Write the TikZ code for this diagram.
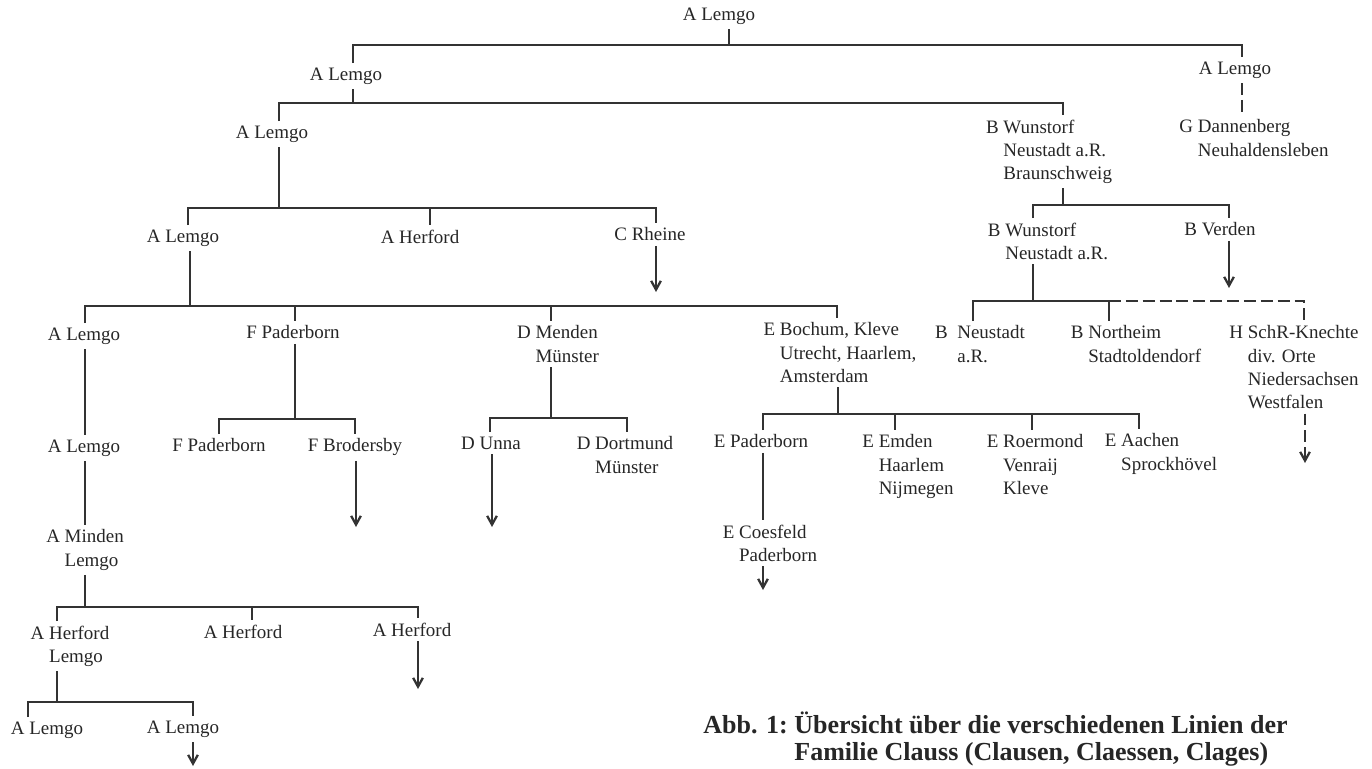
\documentclass[tikz,border=0pt]{standalone}
\usepackage{fontspec}
\setmainfont{Liberation Serif}
\usepackage{tikz}
\usetikzlibrary{arrows.meta}

% indent a continuation line under the place name
\newcommand{\pfx}[1]{\hphantom{#1\ }}

\begin{document}
\begin{tikzpicture}[
    x=0.02cm, y=-0.02cm,
    town/.style={anchor=north, align=left, inner sep=2.5pt, text=black!85,
      font=\fontsize{10.8}{13.2}\selectfont},
    line/.style={draw=black!80, line width=1.3pt},
    dline/.style={line, dash pattern=on 6.8pt off 2.8pt},
    arr/.style={line, -{Straight Barb[length=5pt,width=5.5pt]}},
  ]
  \useasboundingbox (0,0) rectangle (1372,768);

  % Linie A (Lemgo) and the main branches
  \node[town] (a0) at (719,3) {A Lemgo};
  \node[town] (a1) at (346,63) {A Lemgo};
  \node[town] (a2) at (1235,57) {A Lemgo};
  \node[town] (g1) at (1254,115) {G Dannenberg\\\pfx{G}Neuhaldensleben};
  \node[town] (a3) at (272,121) {A Lemgo};
  \node[town] (b1) at (1049,115) {B Wunstorf\\\pfx{B}Neustadt a.R.\\\pfx{B}Braunschweig};
  \node[town] (a4) at (183,225) {A Lemgo};
  \node[town] (h1) at (420,225) {A Herford};
  \node[town] (c1) at (650,223) {C Rheine};
  \node[town] (b2) at (1048,218) {B Wunstorf\\\pfx{B}Neustadt a.R.};
  \node[town] (b5) at (1220,218) {B Verden};

  \node[town] (a5) at (84,323) {A Lemgo};
  \node[town] (f1) at (293,321) {F Paderborn};
  \node[town] (d1) at (558,321) {D Menden\\\pfx{D}Münster};
  \node[town] (e1) at (840,318) {E Bochum, Kleve\\\pfx{E}Utrecht, Haarlem,\\\pfx{E}Amsterdam};
  \node[town] (b3) at (980,321) {B\enspace Neustadt\\\hphantom{B\enspace}a.R.};
  \node[town] (b4) at (1136,321) {B Northeim\\\pfx{B}Stadtoldendorf};
  \node[town] (h5) at (1294,321) {H SchR-Knechte\\\pfx{H}div. Orte\\\pfx{H}Niedersachsen\\\pfx{H}Westfalen};

  \node[town] (a6) at (84,435) {A Lemgo};
  \node[town] (f2) at (219,434) {F Paderborn};
  \node[town] (f3) at (355,434) {F Brodersby};
  \node[town] (d2) at (491,432) {D Unna};
  \node[town] (d3) at (625,432) {D Dortmund\\\pfx{D}Münster};
  \node[town] (e2) at (761,430) {E Paderborn};
  \node[town] (e3) at (908,430) {E Emden\\\pfx{E}Haarlem\\\pfx{E}Nijmegen};
  \node[town] (e4) at (1035,430) {E Roermond\\\pfx{E}Venraij\\\pfx{E}Kleve};
  \node[town] (e5) at (1161,429) {E Aachen\\\pfx{E}Sprockhövel};

  \node[town] (a7) at (85,525) {A Minden\\\pfx{A}Lemgo};
  \node[town] (e6) at (770,520) {E Coesfeld\\\pfx{E}Paderborn};
  \node[town] (h2) at (70,621) {A Herford\\\pfx{A}Lemgo};
  \node[town] (h3) at (243,620) {A Herford};
  \node[town] (h4) at (412,618) {A Herford};
  \node[town] (a8) at (47,717) {A Lemgo};
  \node[town] (a9) at (183,716) {A Lemgo};

  \node[anchor=north west, align=left, inner sep=0pt, text=black!85,
    font=\fontsize{14.8}{15.8}\selectfont\bfseries] (cap) at (703,711)
    {Abb. 1:\ Übersicht über die verschiedenen Linien der\\
     \hphantom{Abb. 1:\ }Familie Clauss (Clausen, Claessen, Clages)};

  % bars: stem point first, then the drops
  \coordinate (t1) at (729,45);  \coordinate (t1a) at (353,45);  \coordinate (t1b) at (1242,45);
  \coordinate (t2) at (353,103); \coordinate (t2a) at (279,103); \coordinate (t2b) at (1063,103);
  \coordinate (t3) at (279,208); \coordinate (t3a) at (188,208); \coordinate (t3b) at (430,208);
  \coordinate (t3c) at (656,208);
  \coordinate (t4) at (190,306); \coordinate (t4a) at (85,306);  \coordinate (t4b) at (295,306);
  \coordinate (t4c) at (551,306); \coordinate (t4d) at (837,306);
  \coordinate (t5) at (295,419); \coordinate (t5a) at (219,419); \coordinate (t5b) at (355,419);
  \coordinate (t6) at (551,418); \coordinate (t6a) at (490,418); \coordinate (t6b) at (627,418);
  \coordinate (t7) at (838,414); \coordinate (t7a) at (763,414); \coordinate (t7b) at (895,414);
  \coordinate (t7c) at (1032,414); \coordinate (t7d) at (1139,414);
  \coordinate (t8) at (85,607);  \coordinate (t8a) at (57,607);  \coordinate (t8b) at (252,607);
  \coordinate (t8c) at (418,607);
  \coordinate (t9) at (57,702);  \coordinate (t9a) at (28,702);  \coordinate (t9b) at (193,702);
  \coordinate (u1) at (1063,205); \coordinate (u1a) at (1033,205); \coordinate (u1b) at (1229,205);
  \coordinate (u2) at (1033,301); \coordinate (u2a) at (973,301); \coordinate (u2b) at (1109,301);
  \coordinate (u2c) at (1304,301);

  \draw[line] (a0.south -| t1) -- (t1);
  \draw[line] (a1.north -| t1a) -- (t1a) -- (t1b) -- (a2.north -| t1b);
  \draw[dline] (a2.south -| t1b) -- (g1.north -| t1b);

  \draw[line] (a1.south -| t2) -- (t2);
  \draw[line] (a3.north -| t2a) -- (t2a) -- (t2b) -- (b1.north -| t2b);

  \draw[line] (a3.south -| t3) -- (t3);
  \draw[line] (a4.north -| t3a) -- (t3a) -- (t3c) -- (c1.north -| t3c);
  \draw[line] (t3b) -- (h1.north -| t3b);

  \draw[line] (a4.south -| t4) -- (t4);
  \draw[line] (a5.north -| t4a) -- (t4a) -- (t4d) -- (e1.north -| t4d);
  \draw[line] (t4b) -- (f1.north -| t4b);
  \draw[line] (t4c) -- (d1.north -| t4c);

  \draw[line] (f1.south -| t5) -- (t5);
  \draw[line] (f2.north -| t5a) -- (t5a) -- (t5b) -- (f3.north -| t5b);
  \draw[line] (d1.south -| t6) -- (t6);
  \draw[line] (d2.north -| t6a) -- (t6a) -- (t6b) -- (d3.north -| t6b);

  \draw[line] (e1.south -| t7) -- (t7);
  \draw[line] (e2.north -| t7a) -- (t7a) -- (t7d) -- (e5.north -| t7d);
  \draw[line] (t7b) -- (e3.north -| t7b);
  \draw[line] (t7c) -- (e4.north -| t7c);
  \draw[line] (e2.south -| t7a) -- (e6.north -| t7a);

  \draw[line] (a5.south -| t4a) -- (a6.north -| t4a);
  \draw[line] (a6.south -| t4a) -- (a7.north -| t4a);
  \draw[line] (a7.south -| t8) -- (t8);
  \draw[line] (h2.north -| t8a) -- (t8a) -- (t8c) -- (h4.north -| t8c);
  \draw[line] (t8b) -- (h3.north -| t8b);
  \draw[line] (h2.south -| t9) -- (t9);
  \draw[line] (a8.north -| t9a) -- (t9a) -- (t9b) -- (a9.north -| t9b);

  \draw[line] (b1.south -| u1) -- (u1);
  \draw[line] (b2.north -| u1a) -- (u1a) -- (u1b) -- (b5.north -| u1b);
  \draw[line] (b2.south -| u2) -- (u2);
  \draw[line] (b3.north -| u2a) -- (u2a) -- (u2b) -- (b4.north -| u2b);
  \draw[dline] (u2b) -- (u2c) -- (h5.north -| u2c);

  % lines continued elsewhere
  \coordinate (x1) at (656,292); \coordinate (x2) at (1229,288);
  \coordinate (x3) at (356,527); \coordinate (x4) at (492,527);
  \coordinate (x5) at (418,689); \coordinate (x6) at (193,766);
  \coordinate (x7) at (763,590); \coordinate (x8) at (1305,463);
  \draw[arr] (c1.south -| x1) -- (x1);
  \draw[arr] (b5.south -| x2) -- (x2);
  \draw[arr] (f3.south -| x3) -- (x3);
  \draw[arr] (d2.south -| x4) -- (x4);
  \draw[arr] (h4.south -| x5) -- (x5);
  \draw[arr] (a9.south -| x6) -- (x6);
  \draw[arr] (e6.south -| x7) -- (x7);
  \draw[arr, dash pattern=on 6.8pt off 2.8pt] (h5.south -| x8) -- (x8);
\end{tikzpicture}
\end{document}
